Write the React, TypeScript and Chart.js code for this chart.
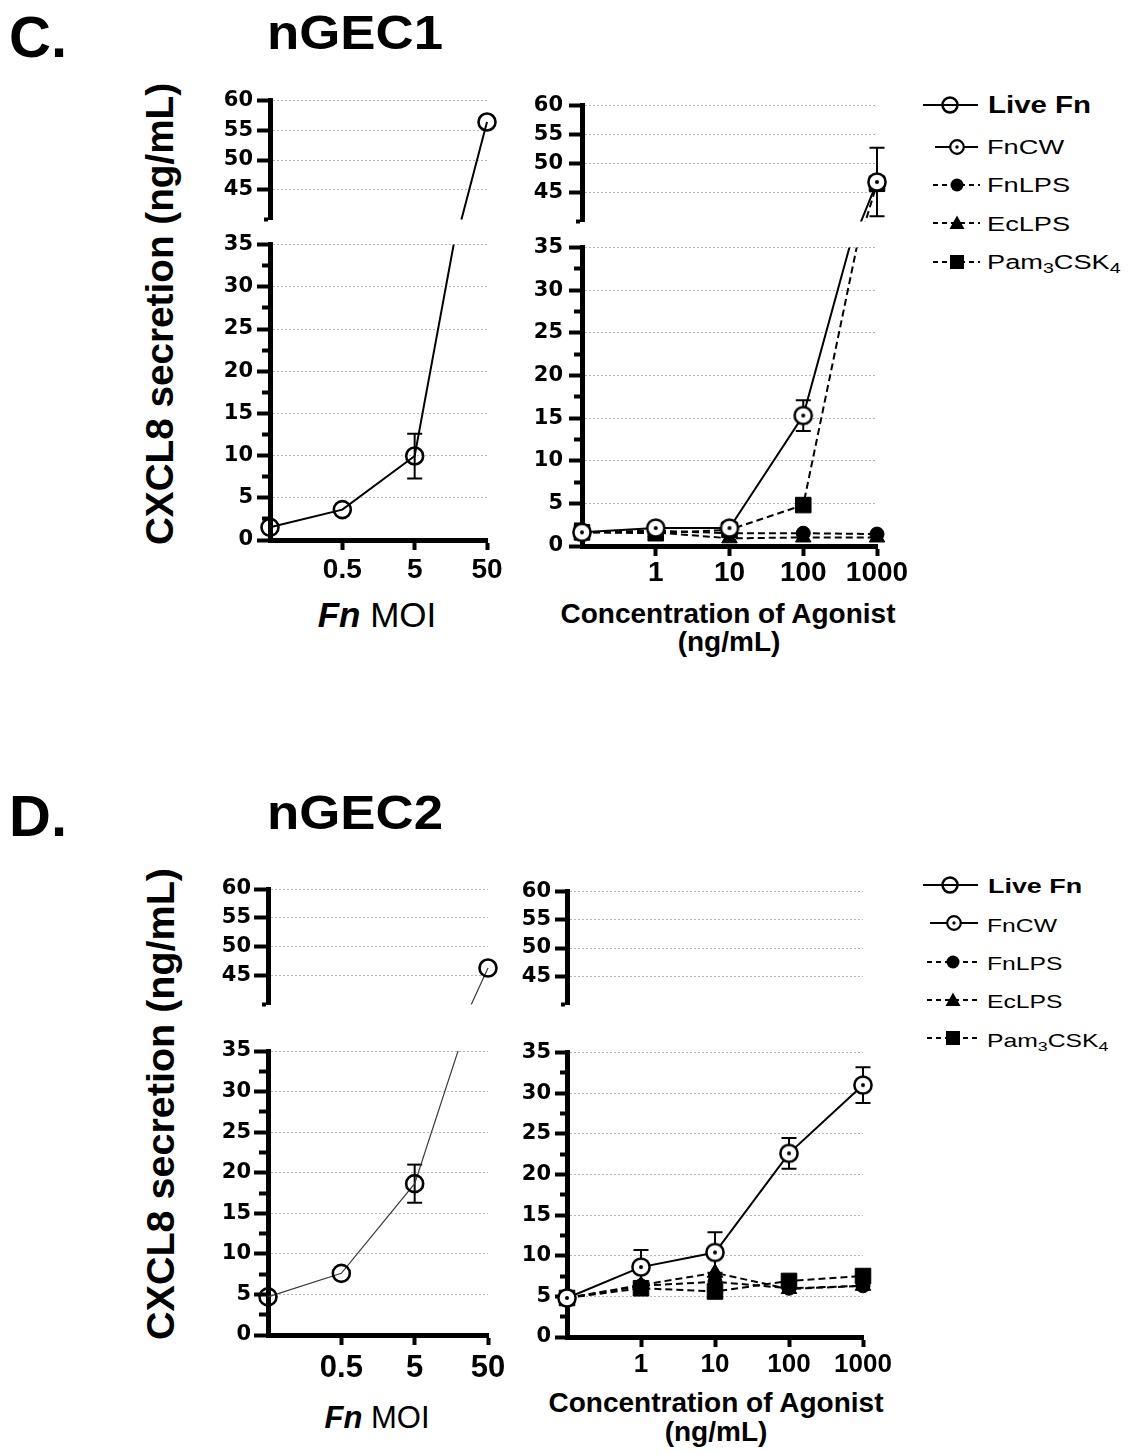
import React, { useEffect, useRef } from 'react';
import { Chart, registerables } from 'chart.js';

Chart.register(...registerables);

const FONT = 'Arial, "Liberation Sans", Helvetica, sans-serif';
const Y_TICK_FONT = '"DejaVu Sans", Verdana, sans-serif';
const GRID = '#b4b4b4';

// ---------------- data ----------------
const moiTicks = ['', '0.5', '5', '50'];
const agonistTicks = ['', '1', '10', '100', '1000'];
const yTopRange = [40, 60];
const yBottomRange = [0, 35];

// nGEC1
const gec1LiveFn = [1.5, 3.6, 9.95, 56.4];
const gec1LiveFnErr = [0, 0, 2.65, 0];
const gec1FnCW = [1.6, 2.1, 2.1, 15.3, 46.8];
const gec1FnCWErr = [0, 0, 0, 1.8, 5.9];
const gec1FnLPS = [1.6, 1.8, 1.5, 1.5, 1.4];
const gec1EcLPS = [1.6, 1.6, 0.9, 1.0, 1.0];
const gec1Pam = [1.6, 1.5, 1.9, 4.8, 46.5];

// nGEC2
const gec2LiveFn = [4.7, 7.6, 18.65, 46.3];
const gec2LiveFnErr = [0, 0, 2.35, 0];
const gec2FnCW = [4.8, 8.6, 10.4, 22.6, 31.0];
const gec2FnCWErr = [0, 2.1, 2.5, 1.9, 2.2];
const gec2FnLPS = [4.8, 6.3, 6.8, 6.0, 6.3];
const gec2EcLPS = [4.8, 6.4, 7.9, 5.9, 6.3];
const gec2Pam = [4.8, 6.0, 5.6, 6.9, 7.5];

const legendNames = ['Live Fn', 'FnCW', 'FnLPS', 'EcLPS', 'Pam3CSK4'];

// ---------------- helpers ----------------
let dotCircleCache: any = null;
function dotCircle() {
  if (dotCircleCache) return dotCircleCache;
  const r = 8.6, lw = 2.5, dotR = 2;
  const size = 22;
  const c = document.createElement('canvas');
  c.width = size; c.height = size;
  const g = c.getContext('2d')!;
  g.beginPath();
  g.arc(size / 2, size / 2, r, 0, Math.PI * 2);
  g.fillStyle = '#fff';
  g.fill();
  g.lineWidth = lw;
  g.strokeStyle = '#000';
  g.stroke();
  g.beginPath();
  g.arc(size / 2, size / 2, dotR, 0, Math.PI * 2);
  g.fillStyle = '#000';
  g.fill();
  dotCircleCache = c;
  return c;
}

function styleFor(kind: string, panel: string): any {
  switch (kind) {
    case 'live':
      return {
        borderColor: panel === 'D' ? '#3a3a3a' : '#000', borderWidth: panel === 'D' ? 1.2 : 2, borderDash: [],
        pointStyle: 'circle', pointRadius: 8.5, pointBorderWidth: 2.6,
        pointBackgroundColor: 'rgba(0,0,0,0)', pointBorderColor: '#000', order: 1,
      };
    case 'cw':
      return {
        borderColor: '#000', borderWidth: 2, borderDash: [],
        pointStyle: dotCircle(), pointRadius: 9, order: 1,
      };
    case 'pam':
      return {
        borderColor: '#000', borderWidth: 2, borderDash: [7, 4],
        pointStyle: 'rect', pointRadius: 11, pointBorderWidth: 1,
        pointBackgroundColor: '#000', pointBorderColor: '#000', order: 2,
      };
    case 'lps':
      return {
        borderColor: '#000', borderWidth: 2, borderDash: [7, 4],
        pointStyle: 'circle', pointRadius: 7, pointBorderWidth: 1,
        pointBackgroundColor: '#000', pointBorderColor: '#000', order: 3,
      };
    default:
      return {
        borderColor: '#000', borderWidth: 2, borderDash: [7, 4],
        pointStyle: 'triangle', pointRadius: 9, pointBorderWidth: 1,
        pointBackgroundColor: '#000', pointBorderColor: '#000', order: 4,
      };
  }
}

function buildDatasets(series: any[], panel: string, clip: any) {
  const out: any[] = [];
  series.forEach((s) => {
    const st = styleFor(s.kind, panel);
    out.push({
      data: s.values.map((v: number, i: number) => ({ x: i, y: v })),
      tension: 0, fill: false, clip, ...st,
    });
    (s.errors || []).forEach((e: number, i: number) => {
      if (!e) return;
      out.push({
        data: [{ x: i, y: s.values[i] - e }, { x: i, y: s.values[i] + e }],
        borderColor: '#000', borderWidth: 2, borderDash: [], tension: 0, fill: false,
        pointStyle: 'line', pointRadius: 7.5, pointBorderWidth: 2, pointBorderColor: '#000',
        order: 9, clip,
      });
    });
  });
  return out;
}

const AXIS_W = 72;
const AXIS_H = 64;
const PAD_T = 16;
const PAD_R = 44;
const PAD_B = 8;

function Segment(props: any) {
  const { area, range, isBottom, xMax, xLabels, xFont, xPad, yPad, tickLen, series, panel } = props;
  const ref = useRef<HTMLCanvasElement>(null);
  const width = AXIS_W + (area.right - area.left) + PAD_R;
  const height = PAD_T + (area.bottom - area.top) + (isBottom ? AXIS_H : PAD_B);
  useEffect(() => {
    const clip = isBottom ? { left: 20, right: 20, top: 0, bottom: 12 } : { left: 20, right: 20, top: 20, bottom: 0 };
    const ymin = range[0], ymax = range[1];
    const chart = new Chart(ref.current as HTMLCanvasElement, {
      type: 'line',
      data: { datasets: buildDatasets(series, panel, clip) },
      options: {
        responsive: false,
        animation: false,
        devicePixelRatio: 1,
        events: [],
        layout: { padding: { left: 0, top: PAD_T, right: PAD_R, bottom: isBottom ? 0 : PAD_B } },
        plugins: { legend: { display: false }, tooltip: { enabled: false } },
        scales: {
          x: {
            type: 'linear', min: 0, max: xMax, display: isBottom,
            afterFit: (s: any) => { s.height = isBottom ? AXIS_H : 0; },
            border: { display: true, color: '#000', width: 5 },
            grid: {
              display: true, drawOnChartArea: false, drawTicks: true, tickLength: 10, tickWidth: 4,
              color: 'rgba(0,0,0,0)',
              tickColor: (c: any) => (c.tick && c.tick.value === 0 ? 'rgba(0,0,0,0)' : '#000'),
            },
            ticks: {
              stepSize: 1, autoSkip: false, maxRotation: 0, minRotation: 0, padding: xPad, color: '#000',
              font: { family: FONT, size: xFont, weight: 'bold' },
              callback: (v: any) => (xLabels[v] !== undefined ? xLabels[v] : ''),
            },
          },
          y: {
            type: 'linear', min: ymin, max: ymax,
            afterFit: (s: any) => { s.width = AXIS_W; },
            border: { display: true, color: '#000', width: 5, dash: [2, 2] },
            grid: {
              display: true, drawOnChartArea: true, drawTicks: true,
              tickLength: tickLen, tickWidth: 4, tickColor: '#000', lineWidth: 1,
              color: (c: any) => {
                const v = c.tick ? c.tick.value : NaN;
                return v % 5 === 0 && v !== ymin ? GRID : 'rgba(0,0,0,0)';
              },
              tickBorderDash: (c: any) => {
                const v = c.tick ? c.tick.value : 0;
                if (v % 5 !== 0) return [0, 5, 60, 0];
                if (!isBottom && v === ymin) return [0, tickLen - 6, 60, 0];
                return [];
              },
            },
            ticks: {
              stepSize: isBottom ? 2.5 : 5, autoSkip: false, maxTicksLimit: 100, padding: yPad, color: '#000',
              font: { family: Y_TICK_FONT, size: 21, weight: 'bold' },
              callback: (v: any) => (v % 5 === 0 && !(!isBottom && v === ymin) ? String(v) : ''),
            },
          },
        },
      } as any,
    });
    return () => chart.destroy();
  }, []);
  return (
    <canvas
      ref={ref}
      width={width}
      height={height}
      style={{ position: 'absolute', left: area.left - AXIS_W, top: area.top - PAD_T, width, height }}
    />
  );
}

function Plot(props: any) {
  const { p } = props;
  const common = {
    xMax: p.xLabels.length - 1, xLabels: p.xLabels, xFont: p.xFont, xPad: p.xPad, yPad: p.yPad,
    tickLen: p.tickLen, series: p.series, panel: p.panel,
  };
  return (
    <>
      <Segment {...common} isBottom={false} range={yTopRange}
        area={{ left: p.x0, right: p.x1, top: p.top[0], bottom: p.top[1] }} />
      <Segment {...common} isBottom={true} range={yBottomRange}
        area={{ left: p.x0, right: p.x1, top: p.bot[0], bottom: p.bot[1] }} />
    </>
  );
}

const PLOTS = [
  {
    key: 'c-left', panel: 'C', x0: 270, x1: 487, top: [100, 228], bot: [244, 540], xLabels: moiTicks,
    xFont: 28, xPad: 3, yPad: 4, tickLen: 13,
    series: [{ kind: 'live', values: gec1LiveFn, errors: gec1LiveFnErr }],
  },
  {
    key: 'c-right', panel: 'C', x0: 582, x1: 877, top: [103, 232], bot: [245, 546], xLabels: agonistTicks,
    xFont: 28, xPad: 0, yPad: 6, tickLen: 13,
    series: [
      { kind: 'cw', values: gec1FnCW, errors: gec1FnCWErr },
      { kind: 'pam', values: gec1Pam },
      { kind: 'lps', values: gec1FnLPS },
      { kind: 'ec', values: gec1EcLPS },
    ],
  },
  {
    key: 'd-left', panel: 'D', x0: 268, x1: 488, top: [889, 1012], bot: [1051, 1335], xLabels: moiTicks,
    xFont: 31, xPad: 5, yPad: 3, tickLen: 14,
    series: [{ kind: 'live', values: gec2LiveFn, errors: gec2LiveFnErr }],
  },
  {
    key: 'd-right', panel: 'D', x0: 567, x1: 863, top: [891, 1013], bot: [1052, 1337], xLabels: agonistTicks,
    xFont: 26, xPad: 2, yPad: 4, tickLen: 12,
    series: [
      { kind: 'cw', values: gec2FnCW, errors: gec2FnCWErr },
      { kind: 'pam', values: gec2Pam },
      { kind: 'lps', values: gec2FnLPS },
      { kind: 'ec', values: gec2EcLPS },
    ],
  },
];

function Label(props: any) {
  const { x, baseline, size, weight = 'normal', italic = false, align = 'left', sx = 1, children } = props;
  const style: any = {
    position: 'absolute', top: baseline - 0.8465 * size, fontSize: size, lineHeight: `${size}px`,
    fontWeight: weight, fontStyle: italic ? 'italic' : 'normal', whiteSpace: 'nowrap', color: '#000',
    fontFamily: FONT,
  };
  if (align === 'left') {
    style.left = x;
    style.transformOrigin = 'left center';
  } else {
    style.left = x - 400;
    style.width = 800;
    style.textAlign = 'center';
    style.transformOrigin = 'center center';
  }
  if (sx !== 1) style.transform = `scaleX(${sx})`;
  return <div style={style}>{children}</div>;
}

function YTitle(props: any) {
  const { cx, cy, size } = props;
  return (
    <div style={{
      position: 'absolute', left: cx - 300, top: cy - 30, width: 600, height: 60, lineHeight: '60px',
      textAlign: 'center', fontSize: size, fontWeight: 'bold', fontFamily: FONT, color: '#000',
      transform: 'rotate(-90deg)', whiteSpace: 'nowrap',
    }}>CXCL8 secretion (ng/mL)</div>
  );
}

function PamText() {
  return (
    <span>Pam<sub style={{ fontSize: '0.72em', verticalAlign: '-0.28em', lineHeight: 0 }}>3</sub>CSK<sub style={{ fontSize: '0.72em', verticalAlign: '-0.28em', lineHeight: 0 }}>4</sub></span>
  );
}

function LegendBlock(props: any) {
  const { rows, baselines, big, small, sxBig, sxSmall, lines } = props;
  return (
    <>
      {legendNames.map((name, i) => (
        <Label key={name} x={i === 0 ? 988 : 987} baseline={baselines[i]} size={i === 0 ? big : small}
          weight={i === 0 ? 'bold' : 'normal'} sx={i === 0 ? sxBig : sxSmall}>
          {name === 'Pam3CSK4' ? <PamText /> : name}
        </Label>
      ))}
      <svg style={{ position: 'absolute', left: 0, top: 0, overflow: 'visible' }} width={1} height={1}>
        {rows.map((y: number, i: number) => {
          const [a, b, m] = lines[i];
          const dashed = i >= 2;
          return (
            <g key={i}>
              <line x1={a} x2={b} y1={y} y2={y} stroke="#000" strokeWidth={i === 0 ? 2 : 1.8}
                strokeDasharray={dashed ? '5 4' : undefined} />
              {i === 0 && <circle cx={m} cy={y} r={7.5} fill="none" stroke="#000" strokeWidth={2.5} />}
              {i === 1 && <circle cx={m} cy={y} r={6.8} fill="#fff" stroke="#000" strokeWidth={2.2} />}
              {i === 1 && <circle cx={m} cy={y} r={1.7} fill="#000" />}
              {i === 2 && <circle cx={m} cy={y} r={6.5} fill="#000" />}
              {i === 3 && <polygon points={`${m - 7.5},${y + 6} ${m + 7.5},${y + 6} ${m},${y - 7.5}`} fill="#000" />}
              {i === 4 && <rect x={m - 7} y={y - 7} width={14} height={14} fill="#000" />}
            </g>
          );
        })}
      </svg>
    </>
  );
}

export default function App() {
  return (
    <div style={{ position: 'absolute', left: 0, top: 0, width: 1133, height: 1454, background: '#fff', fontFamily: FONT, overflow: 'hidden' }}>
      {/* Panel C */}
      <Label x={9} baseline={57} size={58} weight="bold">C.</Label>
      <Label x={267} baseline={50} size={48} weight="bold" sx={1.1}>nGEC1</Label>
      <YTitle cx={160} cy={314} size={38.7} />
      <Label x={377} baseline={627} size={35} align="center">
        <span style={{ fontStyle: 'italic', fontWeight: 'bold' }}>Fn</span> MOI
      </Label>
      <Label x={728} baseline={624} size={28} weight="bold" align="center">Concentration of Agonist</Label>
      <Label x={729} baseline={652} size={28} weight="bold" align="center">(ng/mL)</Label>
      <LegendBlock
        rows={[105, 147, 185, 223, 262]}
        baselines={[113, 154, 192, 231, 269]}
        big={23} small={20} sxBig={1.28} sxSmall={1.36}
        lines={[[923, 978, 950], [935, 978, 957], [933, 980, 957], [933, 980, 957], [933, 980, 957]]}
      />

      {/* Panel D */}
      <Label x={9} baseline={836} size={58} weight="bold">D.</Label>
      <Label x={267} baseline={830} size={48} weight="bold" sx={1.1}>nGEC2</Label>
      <YTitle cx={160} cy={1104} size={39.5} />
      <Label x={377} baseline={1428} size={31} align="center">
        <span style={{ fontStyle: 'italic', fontWeight: 'bold' }}>Fn</span> MOI
      </Label>
      <Label x={716} baseline={1413} size={28} weight="bold" align="center">Concentration of Agonist</Label>
      <Label x={716} baseline={1442} size={28} weight="bold" align="center">(ng/mL)</Label>
      <LegendBlock
        rows={[885, 923, 962, 1000, 1038]}
        baselines={[893, 932, 970, 1008, 1047]}
        big={21} small={19} sxBig={1.28} sxSmall={1.3}
        lines={[[923, 978, 950], [930, 978, 954], [927, 977, 953], [927, 977, 953], [927, 977, 953]]}
      />

      {PLOTS.map((p) => <Plot key={p.key} p={p} />)}
    </div>
  );
}
